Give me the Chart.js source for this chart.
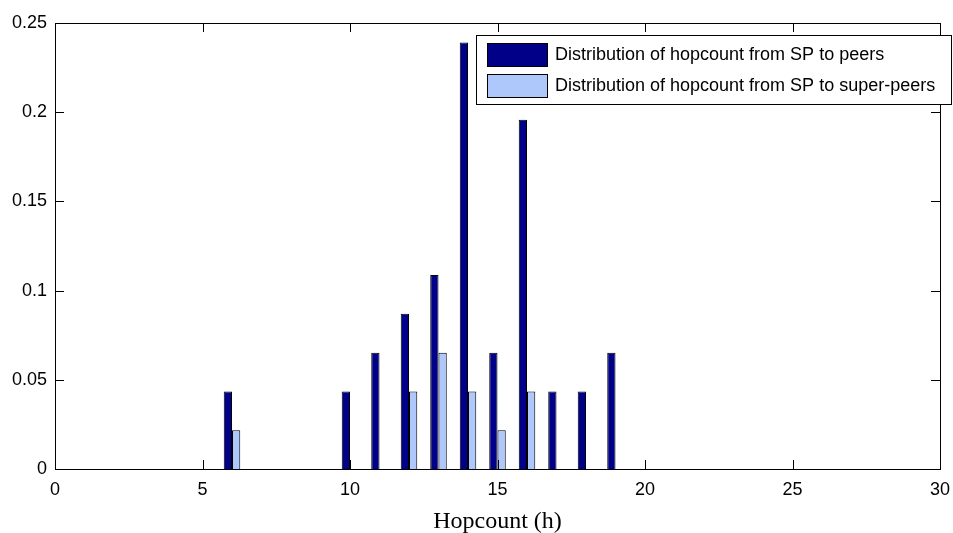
<!DOCTYPE html>
<html>
<head>
<meta charset="utf-8">
<script src="https://cdn.jsdelivr.net/npm/chart.js@4/dist/chart.umd.min.js"></script>
<style>
  html, body { margin: 0; padding: 0; background: #fff; }
  #wrap { width: 953px; height: 533px; }
</style>
</head>
<body>
<div id="wrap"><canvas id="c" width="953" height="533"></canvas></div>
<script>
// Hopcount distribution from the SP (share of paths per hop count)
const hops = [6, 10, 11, 12, 13, 14, 15, 16, 17, 18, 19];
const toPeers = [0.0435, 0.0435, 0.0652, 0.0870, 0.1087, 0.2391, 0.0652, 0.1957, 0.0435, 0.0435, 0.0652];
const toSuperPeers = [0.0217, null, null, 0.0435, 0.0652, 0.0435, 0.0217, 0.0435, null, null, null];
const seriesNames = [
  'Distribution of hopcount from SP to peers',
  'Distribution of hopcount from SP to super-peers'
];
const xTicks = [0, 5, 10, 15, 20, 25, 30];
const yTicks = [0, 0.05, 0.1, 0.15, 0.2, 0.25];

const DARK = '#000088';
const LIGHT = '#afc8fb';
const TICK_LEN = 9;

// Boxed axes with inward tick marks on all four sides, plus a boxed legend
const framePlugin = {
  id: 'frame',
  afterDatasetsDraw(chart) {
    const { ctx, chartArea: a, scales } = chart;
    ctx.save();
    ctx.strokeStyle = '#000';
    ctx.lineWidth = 1;
    ctx.beginPath();
    xTicks.forEach(v => {
      const px = Math.round(scales.x.getPixelForValue(v)) + 0.5;
      ctx.moveTo(px, a.bottom); ctx.lineTo(px, a.bottom - TICK_LEN);
      ctx.moveTo(px, a.top); ctx.lineTo(px, a.top + TICK_LEN);
    });
    yTicks.forEach(v => {
      const py = Math.round(scales.y.getPixelForValue(v)) + 0.5;
      ctx.moveTo(a.left, py); ctx.lineTo(a.left + TICK_LEN, py);
      ctx.moveTo(a.right, py); ctx.lineTo(a.right - TICK_LEN, py);
    });
    ctx.stroke();
    ctx.strokeRect(Math.round(a.left) + 0.5, Math.round(a.top) + 0.5,
                   Math.round(a.right - a.left), Math.round(a.bottom - a.top));

    // legend box
    const lx = 476, ly = 35, lw = 475, lh = 69;
    ctx.fillStyle = '#fff';
    ctx.fillRect(lx, ly, lw, lh);
    ctx.strokeRect(lx + 0.5, ly + 0.5, lw, lh);
    const fills = [DARK, LIGHT];
    const rows = [43, 74];
    ctx.font = '18px "Liberation Sans", Arial, sans-serif';
    ctx.textBaseline = 'middle';
    rows.forEach((ry, i) => {
      ctx.fillStyle = fills[i];
      ctx.fillRect(487, ry, 60, 23);
      ctx.strokeStyle = '#000';
      ctx.strokeRect(487.5, ry + 0.5, 60, 23);
      ctx.fillStyle = '#000';
      ctx.fillText(seriesNames[i], 555, ry + 12);
    });
    ctx.restore();
  }
};

new Chart(document.getElementById('c'), {
  type: 'bar',
  data: {
    datasets: [
      {
        label: seriesNames[0],
        data: hops.map((h, i) => ({ x: h, y: toPeers[i] })),
        backgroundColor: DARK,
        borderColor: '#000',
        borderWidth: 1,
        borderSkipped: 'start'
      },
      {
        label: seriesNames[1],
        data: hops.map((h, i) => ({ x: h, y: toSuperPeers[i] })),
        backgroundColor: LIGHT,
        borderColor: '#000',
        borderWidth: 1,
        borderSkipped: 'start'
      }
    ]
  },
  options: {
    responsive: false,
    animation: false,
    barPercentage: 1,
    categoryPercentage: 0.56,
    layout: { padding: { left: 0, right: 13, top: 23, bottom: 0 } },
    plugins: { legend: { display: false }, tooltip: { enabled: false } },
    scales: {
      x: {
        type: 'linear',
        offset: false,
        min: 0, max: 30,
        grid: { display: false, offset: false },
        border: { display: false },
        afterBuildTicks(s) { s.ticks = xTicks.map(v => ({ value: v })); },
        afterFit(s) { s.height = 64; },
        ticks: {
          color: '#000',
          padding: 2,
          maxRotation: 0,
          font: { family: '"Liberation Sans", Arial, sans-serif', size: 18 },
          callback: v => String(v)
        },
        title: {
          display: true,
          text: 'Hopcount (h)',
          color: '#000',
          padding: { top: 0, bottom: -3 },
          font: { family: '"Liberation Serif", "Times New Roman", serif', size: 24 }
        }
      },
      y: {
        min: 0, max: 0.25,
        grid: { display: false },
        border: { display: false },
        afterBuildTicks(s) { s.ticks = yTicks.map(v => ({ value: v })); },
        afterFit(s) { s.width = 55; },
        ticks: {
          color: '#000',
          padding: 0,
          font: { family: '"Liberation Sans", Arial, sans-serif', size: 18 },
          callback: v => String(+v.toFixed(2))
        }
      }
    }
  },
  plugins: [framePlugin]
});
</script>
</body>
</html>
